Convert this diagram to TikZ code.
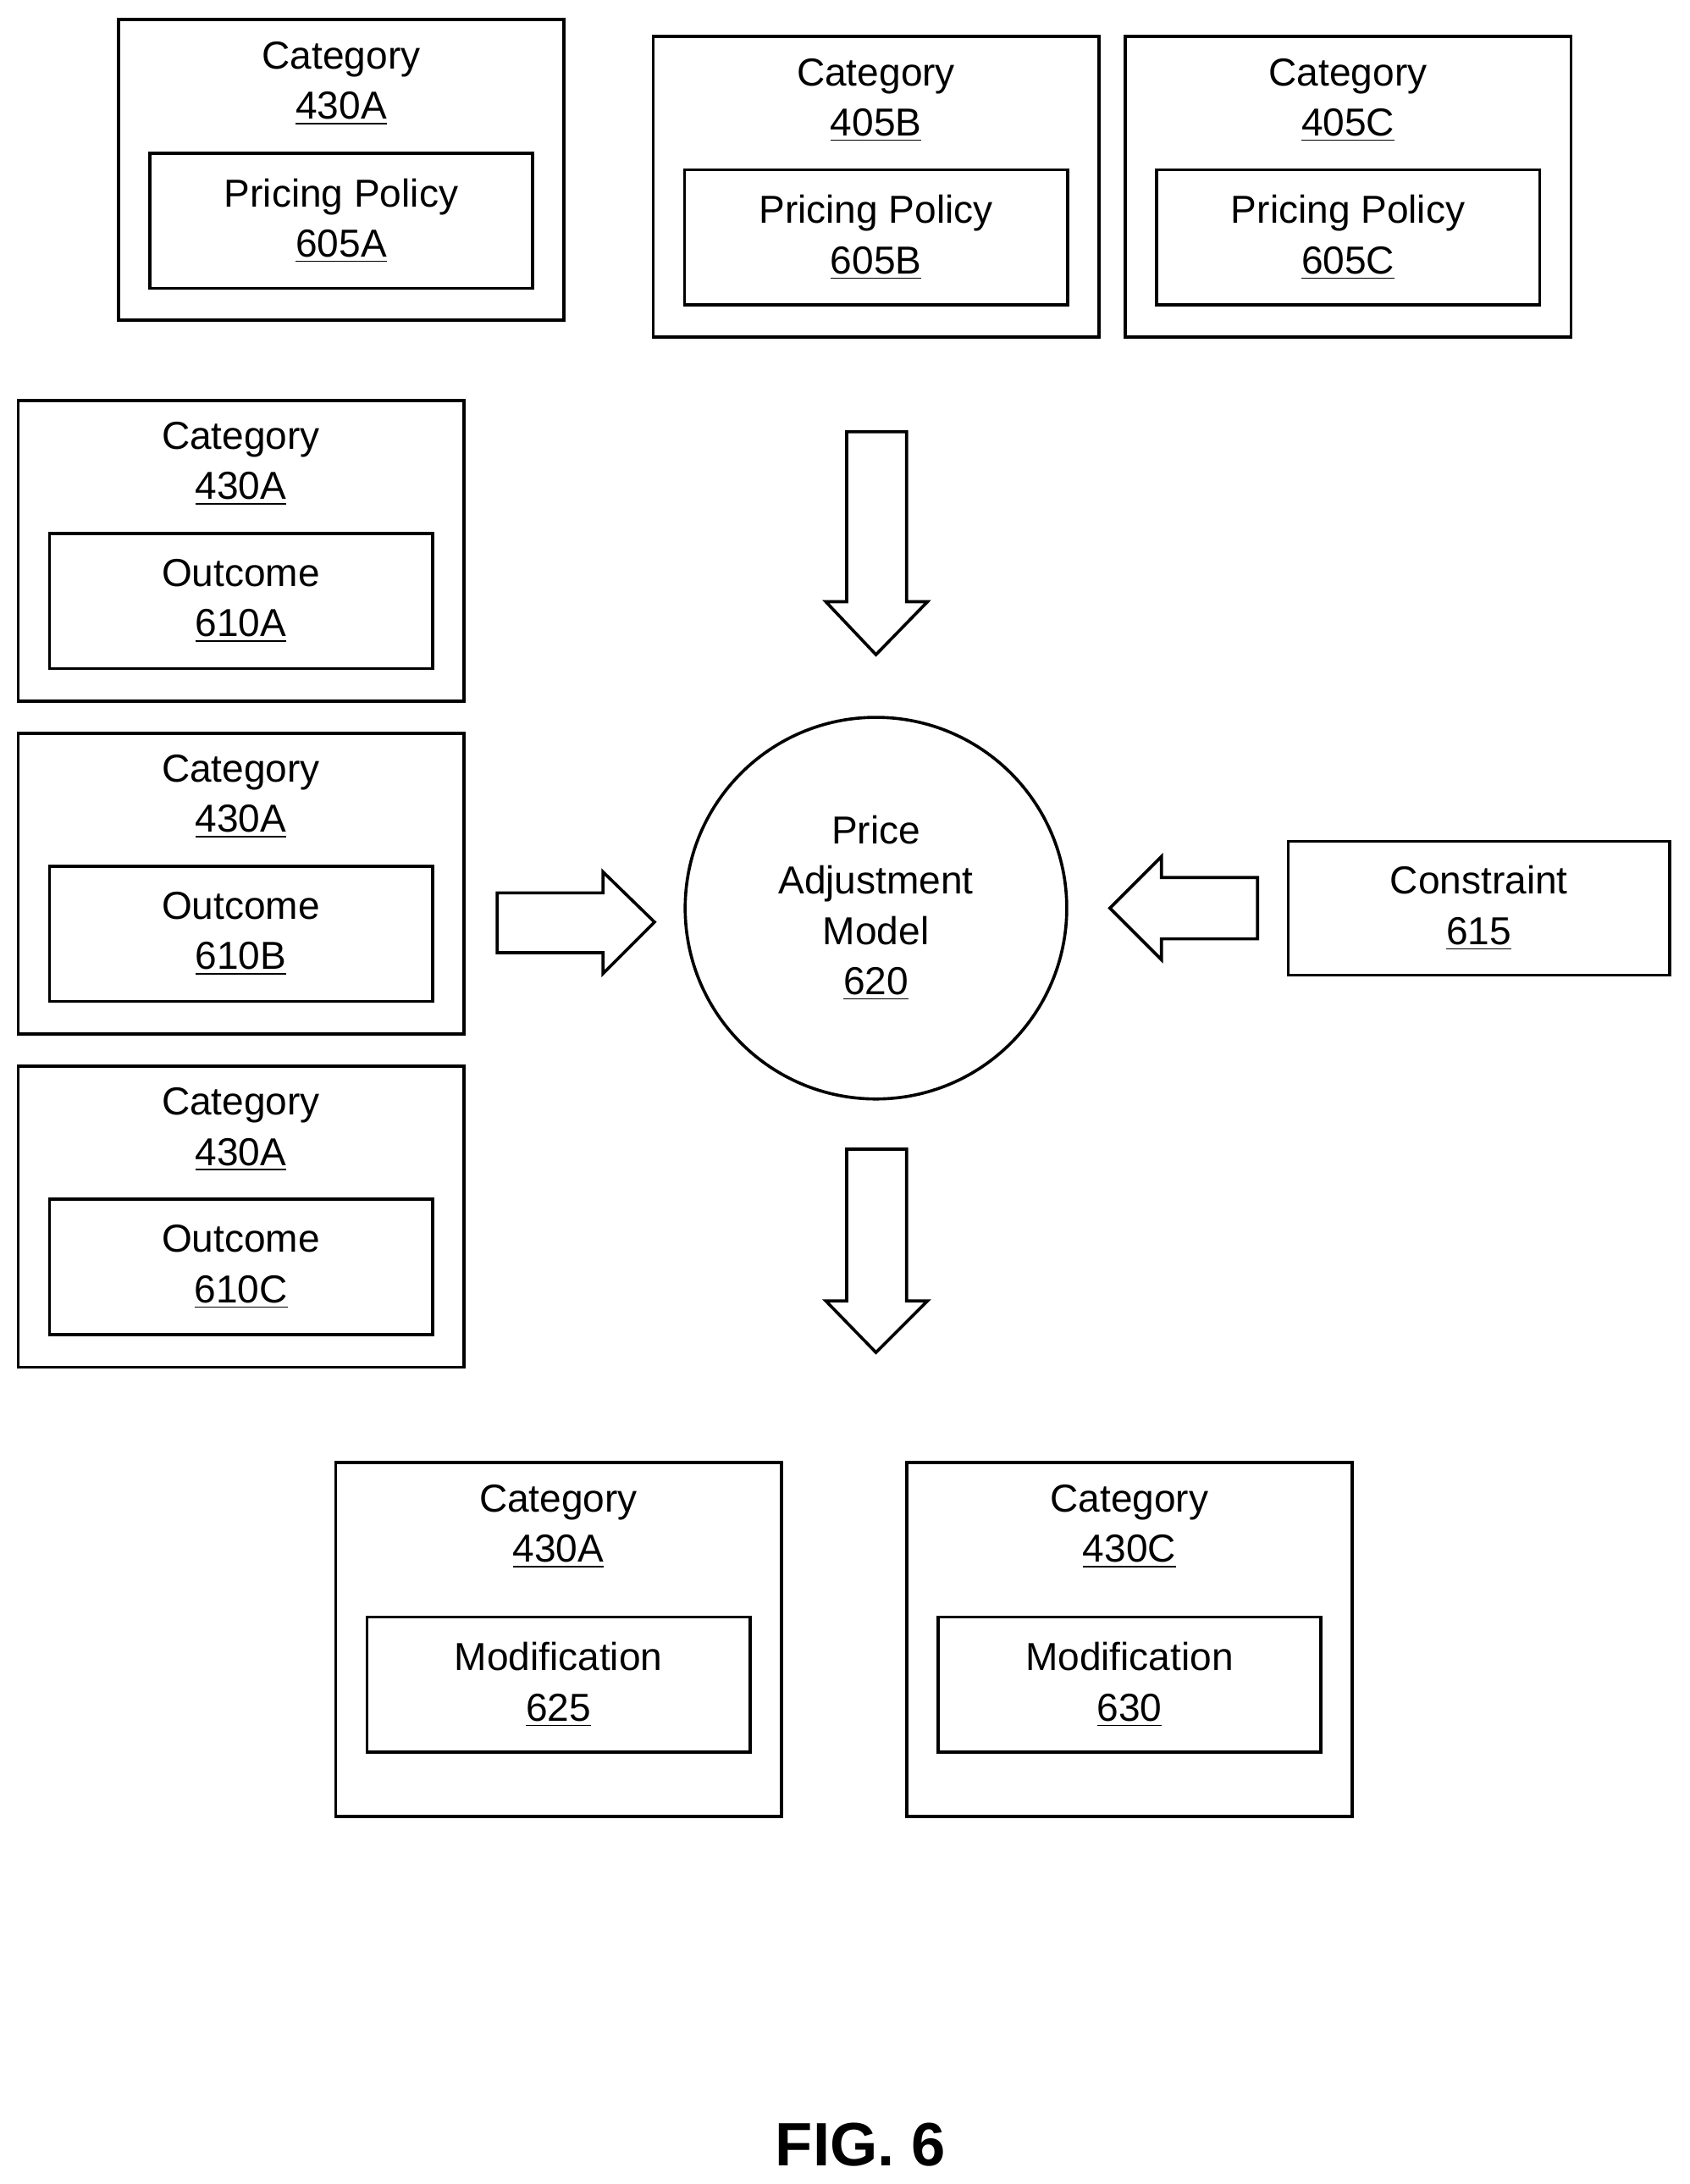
\documentclass[tikz,border=0pt]{standalone}
\usepackage{fontspec}
\setmainfont{Liberation Sans}
\begin{document}
\begin{tikzpicture}[x=0.5pt,y=-0.5pt,
  txt/.style={align=center,font=\fontsize{14}{18}\selectfont,inner sep=0pt},
  outer/.style={draw,line width=1.1pt,minimum width=160pt,minimum height=108pt,inner sep=0pt},
  outerb/.style={outer,minimum height=127pt},
  inner/.style={draw,line width=1.1pt,minimum width=137.5pt,minimum height=48.5pt,txt},
  barrow/.style={draw,line width=1.1pt,fill=white}]
\useasboundingbox (0,0) rectangle (1213,1568);
\newcommand\mycbox[7]{%
  \node[#7] (#1) at (#2,#3) {};
  \node[txt] (#1h) at (#2,#4) {Category\\\underline{#5}};
  \node[inner] (#1i) at (#2,#4+98.5) {#6};}
\mycbox{t1}{245}{122}{60}{430A}{Pricing Policy\\\underline{605A}}{outer}
\mycbox{t2}{629}{134}{72}{405B}{Pricing Policy\\\underline{605B}}{outer}
\mycbox{t3}{968}{134}{72}{405C}{Pricing Policy\\\underline{605C}}{outer}
\mycbox{l1}{173}{395.5}{333}{430A}{Outcome\\\underline{610A}}{outer}
\mycbox{l2}{173}{634.5}{572}{430A}{Outcome\\\underline{610B}}{outer}
\mycbox{l3}{173}{873.5}{811}{430A}{Outcome\\\underline{610C}}{outer}
\node[outerb] (b1) at (401,1177) {};
\node[txt] (b1h) at (401,1096) {Category\\\underline{430A}};
\node[inner] (b1i) at (401,1209.5) {Modification\\\underline{625}};
\node[outerb] (b2) at (811,1177) {};
\node[txt] (b2h) at (811,1096) {Category\\\underline{430C}};
\node[inner] (b2i) at (811,1209.5) {Modification\\\underline{630}};
\node[draw,line width=1.1pt,minimum width=137pt,minimum height=48pt,txt] (con) at (1062,652) {Constraint\\\underline{615}};
\node[draw,circle,line width=1.1pt,minimum size=137pt,txt] (pam) at (629,652) {Price\\Adjustment\\Model\\\underline{620}};
\node[txt] (fig) at (618,1540) {\fontsize{22}{26}\selectfont\bfseries FIG. 6};
% block arrows
\draw[barrow] (608,310) -- (651,310) -- (651,432) -- (666,432) -- (629,470) -- (593,432) -- (608,432) -- cycle;
\draw[barrow] (608,825) -- (651,825) -- (651,934) -- (666,934) -- (629,971) -- (593,934) -- (608,934) -- cycle;
\draw[barrow] (357,641) -- (433,641) -- (433,626) -- (470,662) -- (433,699) -- (433,684) -- (357,684) -- cycle;
\draw[barrow] (903,630) -- (834,630) -- (834,615) -- (797,652) -- (834,689) -- (834,674) -- (903,674) -- cycle;
\end{tikzpicture}
\end{document}
